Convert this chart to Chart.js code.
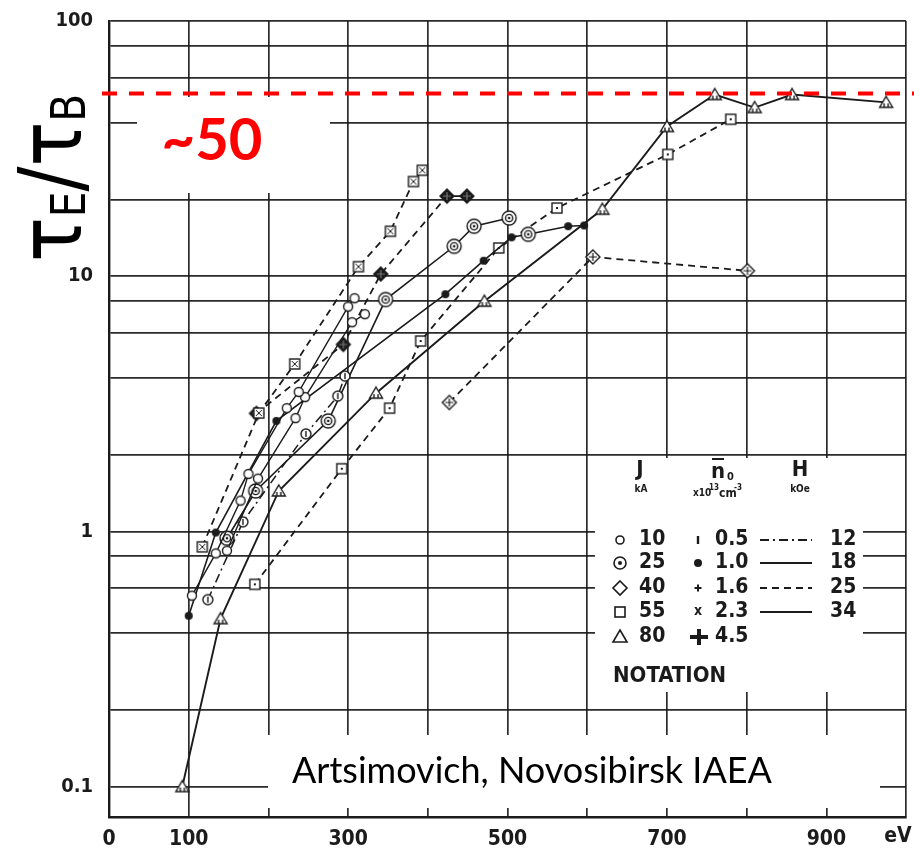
<!DOCTYPE html>
<html>
<head>
<meta charset="utf-8">
<script src="https://cdn.jsdelivr.net/npm/chart.js@4.4.1/dist/chart.umd.min.js"></script>
<style>
  html, body { margin: 0; padding: 0; background: #fff; }
  #wrap { width: 914px; height: 850px; }
</style>
</head>
<body>
<div id="wrap"><canvas id="c" width="914" height="850"></canvas></div>
<script>
// values (x in eV, y = tauE/tauB)
const triEV  = [92, 140, 213, 335, 471, 619, 700, 760, 810, 857, 975];
const triVal = [0.1, 0.455, 1.44, 3.48, 7.98, 18.3, 38.6, 51.5, 45.8, 51.5, 48];

const sqEV  = [183, 292, 352, 391, 489, 562, 701, 780];
const sqVal = [0.62, 1.76, 3.04, 5.57, 12.9, 18.5, 30, 41.2];

const dmEV  = [427, 607, 801];
const dmVal = [3.2, 11.9, 10.5];

const sxEV  = [117, 188, 233, 313, 353, 382, 393];
const sxVal = [0.87, 2.91, 4.53, 10.9, 15, 23.5, 26];

const bdEV  = [185, 294, 341, 424, 449];
const bdVal = [2.9, 5.4, 10.2, 20.6, 20.6];

const cdEV  = [148, 184, 275, 347, 433, 458, 502];
const cdVal = [0.94, 1.44, 2.71, 8.1, 13.1, 15.7, 16.9];

const bkEV  = [100, 134, 210, 422, 470, 505, 526, 576, 596];
const bkVal = [0.467, 0.99, 2.71, 8.5, 11.5, 14.2, 14.6, 15.7, 15.8];

const c1EV  = [104, 134, 165, 175, 223, 238, 300, 308];
const c1Val = [0.56, 0.82, 1.32, 1.68, 3.04, 3.52, 7.6, 8.2];

const c2EV  = [148, 187, 234, 246, 305, 321];
const c2Val = [0.84, 1.61, 2.78, 3.36, 6.6, 7.1];

const cbEV  = [124, 168, 247, 287, 296];
const cbVal = [0.54, 1.09, 2.41, 3.39, 4.06];

const xTicks = [0, 100, 200, 300, 400, 500, 600, 700, 800, 900, 1000];
const xLabels = [0, 100, 300, 500, 700, 900];
const yGrid = [0.1, 0.2, 0.4, 0.6, 0.8, 1, 2, 4, 6, 8, 10, 20, 40, 60, 80, 100];
const yLabels = { 0.1: '0.1', 1: '1', 10: '10', 100: '100' };
const redLevel = 52;

const jRows = ['10', '25', '40', '55', '80'];
const nRows = ['0.5', '1.0', '1.6', '2.3', '4.5'];
const hRows = ['12', '18', '25', '34'];

const INK = '#1b1b1b';
const NARROW = "'Liberation Sans Narrow', 'DejaVu Sans Condensed', 'Arial Narrow', sans-serif";

const DASHED = [7, 5];
const DASHDOT = [9, 4, 2, 4];

// small marker images used as point styles
function marker(kind) {
  const S = 20, c = document.createElement('canvas');
  c.width = S; c.height = S;
  const g = c.getContext('2d'), m = S / 2;
  g.strokeStyle = INK; g.lineWidth = 1.4;
  const ring = (r, fill) => {
    g.beginPath(); g.arc(m, m, r, 0, Math.PI * 2);
    if (fill) { g.fillStyle = fill; g.fill(); }
    g.stroke();
  };
  if (kind === 'circle') ring(4.5, '#fff');
  if (kind === 'circleDot') {
    ring(7, '#fff'); ring(3.6);
    g.fillStyle = INK; g.beginPath(); g.arc(m, m, 1.3, 0, 7); g.fill();
  }
  if (kind === 'circleBar') {
    ring(5, '#fff');
    g.beginPath(); g.moveTo(m, m - 3); g.lineTo(m, m + 3); g.stroke();
  }
  if (kind === 'square' || kind === 'squareX') {
    g.fillStyle = '#fff'; g.fillRect(m - 5, m - 5, 10, 10); g.strokeRect(m - 5, m - 5, 10, 10);
    if (kind === 'square') { g.fillStyle = INK; g.fillRect(m - 1, m - 1, 2, 2); }
    else { g.lineWidth = 1; g.beginPath(); g.moveTo(m - 3, m - 3); g.lineTo(m + 3, m + 3); g.moveTo(m + 3, m - 3); g.lineTo(m - 3, m + 3); g.stroke(); }
  }
  if (kind === 'triangle') {
    g.beginPath(); g.moveTo(m, m - 6); g.lineTo(m + 6.5, m + 5); g.lineTo(m - 6.5, m + 5); g.closePath();
    g.fillStyle = '#fff'; g.fill(); g.stroke();
    g.beginPath(); g.moveTo(m - 2, m + 1); g.lineTo(m - 2, m + 5); g.moveTo(m + 2, m + 1); g.lineTo(m + 2, m + 5); g.stroke();
  }
  if (kind === 'diamondPlus' || kind === 'diamondBlack') {
    g.beginPath(); g.moveTo(m, m - 7); g.lineTo(m + 7, m); g.lineTo(m, m + 7); g.lineTo(m - 7, m); g.closePath();
    g.fillStyle = kind === 'diamondBlack' ? INK : '#fff'; g.fill(); g.stroke();
    g.strokeStyle = kind === 'diamondBlack' ? '#777' : INK; g.lineWidth = 1.2;
    g.beginPath(); g.moveTo(m - 4, m); g.lineTo(m + 4, m); g.moveTo(m, m - 4); g.lineTo(m, m + 4); g.stroke();
  }
  if (kind === 'dot') { g.fillStyle = INK; g.beginPath(); g.arc(m, m, 4, 0, 7); g.fill(); }
  return c;
}

const MK = {};
['circle', 'circleDot', 'circleBar', 'square', 'squareX', 'triangle', 'diamondPlus', 'diamondBlack', 'dot'].forEach(k => MK[k] = marker(k));

const pts = (ev, val) => ev.map((x, i) => ({ x, y: val[i] }));

function line(ev, val, style, dash, width) {
  return {
    data: pts(ev, val),
    showLine: true,
    borderColor: INK,
    backgroundColor: INK,
    borderWidth: width || 1.6,
    borderDash: dash || [],
    pointStyle: style,
    pointRadius: 6,
    tension: 0
  };
}

const bkStyles = bkEV.map((_, i) => i === 6 ? MK.circleDot : MK.dot);

const datasets = [
  line(c1EV, c1Val, MK.circle, [], 1.4),
  line(c2EV, c2Val, MK.circle, [], 1.4),
  line(cbEV, cbVal, MK.circleBar, DASHDOT, 1.5),
  line(bkEV, bkVal, bkStyles, [], 1.6),
  line(cdEV, cdVal, MK.circleDot, [], 1.6),
  line(sxEV, sxVal, MK.squareX, DASHED, 1.8),
  line(bdEV, bdVal, MK.diamondBlack, DASHED, 1.8),
  line(sqEV, sqVal, MK.square, DASHED, 1.8),
  line(dmEV, dmVal, MK.diamondPlus, DASHED, 1.8),
  line(triEV, triVal, MK.triangle, [], 1.9)
];

function drawLegend(ctx) {
  ctx.save();
  ctx.fillStyle = '#fff';
  ctx.fillRect(595, 458, 268, 234);
  ctx.fillStyle = INK; ctx.strokeStyle = INK;
  const t = (s, x, y, size, align) => {
    ctx.font = `bold ${size}px ${NARROW}`;
    ctx.textAlign = align || 'left'; ctx.textBaseline = 'middle';
    ctx.fillText(s, x, y);
  };
  t('J', 640, 470, 22, 'center');
  t('kA', 641, 489, 10, 'center');
  t('n', 718, 472, 22, 'center');
  ctx.lineWidth = 2; ctx.beginPath(); ctx.moveTo(712, 459); ctx.lineTo(724, 459); ctx.stroke();
  t('0', 727, 477, 11, 'left');
  t('x10', 693, 493, 10, 'left');
  t('13', 709, 488, 8, 'left');
  t('cm', 719, 494, 12, 'left');
  t('-3', 734, 488, 8, 'left');
  t('H', 800, 470, 22, 'center');
  t('kOe', 800, 489, 10, 'center');

  const ys = [540, 563, 588, 612, 637];
  ys.forEach((y, i) => {
    t(jRows[i], 639, y, 21);
    t(nRows[i], 715, y, 21);
    if (i < hRows.length) t(hRows[i], 830, y, 21);
  });
  // J symbols
  ctx.lineWidth = 1.6;
  ctx.beginPath(); ctx.arc(620, 540, 4, 0, 7); ctx.stroke();
  ctx.beginPath(); ctx.arc(620, 563, 6, 0, 7); ctx.stroke();
  ctx.beginPath(); ctx.arc(620, 563, 2, 0, 7); ctx.fill();
  ctx.beginPath(); ctx.moveTo(620, 581); ctx.lineTo(627, 588); ctx.lineTo(620, 595); ctx.lineTo(613, 588); ctx.closePath(); ctx.stroke();
  ctx.strokeRect(615, 607, 10, 10);
  ctx.beginPath(); ctx.moveTo(620, 630); ctx.lineTo(627, 642); ctx.lineTo(613, 642); ctx.closePath(); ctx.stroke();
  // density symbols
  ctx.lineWidth = 2.4;
  ctx.beginPath(); ctx.moveTo(698, 536); ctx.lineTo(698, 544); ctx.stroke();
  ctx.beginPath(); ctx.arc(698, 563, 4, 0, 7); ctx.fill();
  ctx.lineWidth = 2;
  ctx.beginPath(); ctx.moveTo(694.5, 588); ctx.lineTo(701.5, 588); ctx.moveTo(698, 584.5); ctx.lineTo(698, 591.5); ctx.stroke();
  t('x', 698, 611, 14, 'center');
  ctx.lineWidth = 4;
  ctx.beginPath(); ctx.moveTo(690, 637); ctx.lineTo(708, 637); ctx.moveTo(699, 629); ctx.lineTo(699, 645); ctx.stroke();
  // H line samples
  const dashes = [DASHDOT, [], DASHED, []];
  dashes.forEach((d, i) => {
    ctx.setLineDash(d); ctx.lineWidth = 2.2;
    ctx.beginPath(); ctx.moveTo(760, ys[i]); ctx.lineTo(812, ys[i]); ctx.stroke();
  });
  ctx.setLineDash([]);
  t('NOTATION', 613, 676, 22);
  ctx.restore();
}

function drawYTitle(ctx) {
  ctx.save();
  ctx.translate(81, 262);
  ctx.rotate(-Math.PI / 2);
  const mainF = "88px 'DejaVu Sans', sans-serif";
  const subF = "48px 'DejaVu Sans', sans-serif";
  const parts = [['τ', mainF, 0], ['E', subF, 4], ['/', mainF, 0], ['τ', mainF, 0], ['B', subF, 4]];
  let w = 0;
  parts.forEach(p => { ctx.font = p[1]; w += ctx.measureText(p[0]).width; });
  const target = 168;
  ctx.scale(target / w, 1);
  ctx.fillStyle = '#000'; ctx.textBaseline = 'alphabetic'; ctx.textAlign = 'left';
  let x = 0;
  parts.forEach(p => { ctx.font = p[1]; ctx.fillText(p[0], x, p[2]); x += ctx.measureText(p[0]).width; });
  ctx.restore();
}

const decor = {
  id: 'decor',
  afterDraw(chart) {
    const ctx = chart.ctx;
    const ys = chart.scales.y;
    drawLegend(ctx);

    // source box at the bottom
    ctx.save();
    ctx.fillStyle = '#fff';
    ctx.fillRect(268, 735, 612, 73);
    ctx.fillStyle = '#000';
    ctx.font = "36px Lato, 'Open Sans', sans-serif";
    ctx.textAlign = 'left'; ctx.textBaseline = 'alphabetic';
    ctx.fillText('Artsimovich, Novosibirsk IAEA', 292, 783, 480);

    // ~50 box
    ctx.fillStyle = '#fff';
    ctx.fillRect(137, 97, 193, 96);
    ctx.fillStyle = '#ff0000';
    ctx.font = "bold 58px Lato, 'Open Sans', sans-serif";
    ctx.textAlign = 'center';
    ctx.fillText('~50', 212, 160);

    // red reference line
    const yr = ys.getPixelForValue(redLevel);
    ctx.strokeStyle = '#ff0000'; ctx.lineWidth = 4; ctx.setLineDash([15, 12]);
    ctx.beginPath(); ctx.moveTo(102, yr); ctx.lineTo(914, yr); ctx.stroke();
    ctx.setLineDash([]);

    // unit on the x axis
    ctx.fillStyle = INK;
    ctx.font = `bold 21px ${NARROW}`;
    ctx.textAlign = 'center'; ctx.textBaseline = 'middle';
    ctx.fillText('eV', 898, 837);
    ctx.restore();

    drawYTitle(ctx);
  }
};

const gridColor = 'rgba(25,25,25,0.92)';

new Chart(document.getElementById('c'), {
  type: 'scatter',
  data: { datasets },
  options: {
    responsive: false,
    animation: false,
    layout: { padding: { top: 21, right: 1, left: 0, bottom: 0 } },
    plugins: { legend: { display: false }, tooltip: { enabled: false } },
    scales: {
      x: {
        type: 'linear', min: 0, max: 1000,
        afterBuildTicks: s => { s.ticks = xTicks.map(v => ({ value: v })); },
        afterFit: s => { s.height = 33; s.paddingLeft = 0; s.paddingRight = 0; },
        grid: { color: gridColor, lineWidth: 1.7, drawTicks: false },
        border: { display: true, color: INK, width: 2.4 },
        ticks: {
          autoSkip: false, maxRotation: 0, padding: 10, color: INK,
          font: { family: NARROW, size: 21, weight: 'bold' },
          callback: v => xLabels.includes(v) ? String(v) : ''
        }
      },
      y: {
        type: 'logarithmic', min: 0.076, max: 100,
        afterBuildTicks: s => { s.ticks = yGrid.map(v => ({ value: v })); },
        afterFit: s => { s.width = 109; s.paddingTop = 0; s.paddingBottom = 0; },
        grid: { color: gridColor, lineWidth: 1.7, drawTicks: false },
        border: { display: true, color: INK, width: 2.4 },
        ticks: {
          autoSkip: false, padding: 16, color: INK,
          font: { family: NARROW, size: 20, weight: 'bold' },
          callback: v => yLabels[v] || ''
        }
      }
    }
  },
  plugins: [decor]
});
</script>
</body>
</html>
